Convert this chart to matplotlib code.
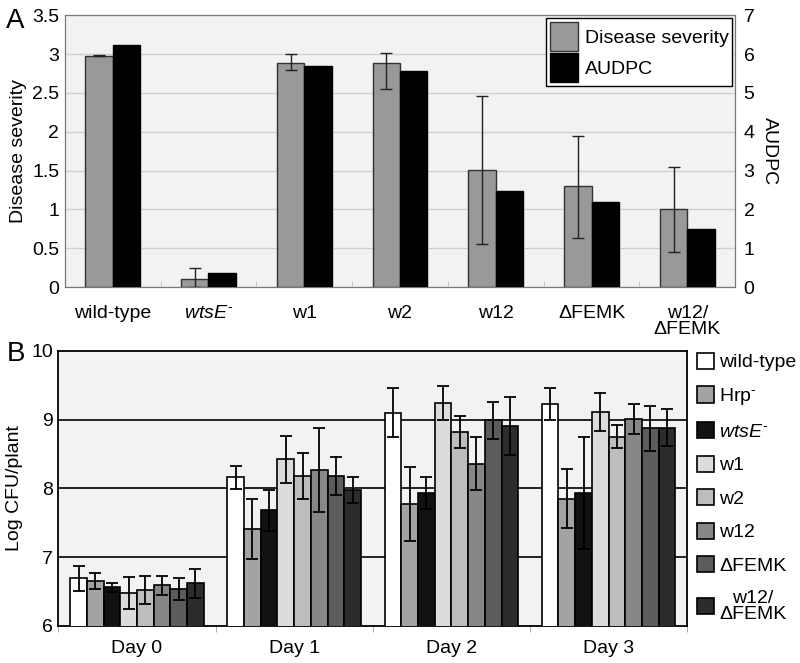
import numpy as np
import matplotlib
matplotlib.use('Agg')
import matplotlib.pyplot as plt

plt.rcParams['font.family'] = ['Liberation Sans', 'DejaVu Sans']
plt.rcParams['mathtext.fontset'] = 'custom'
plt.rcParams['mathtext.rm'] = 'Liberation Sans'
plt.rcParams['mathtext.it'] = 'Liberation Sans:italic'

# panel A data
strains_a = ['wild-type', r'$wtsE^{\text{-}}$', 'w1', 'w2', 'w12', '\u0394FEMK', 'w12/\n\u0394FEMK']
severity = [2.98, 0.10, 2.89, 2.89, 1.51, 1.30, 1.01]
sev_lo = [0.01, 0.10, 0.10, 0.34, 0.96, 0.67, 0.56]
sev_hi = [0.01, 0.15, 0.11, 0.12, 0.95, 0.65, 0.54]
audpc = [6.23, 0.37, 5.69, 5.57, 2.48, 2.18, 1.50]

# panel B data
days = ['Day 0', 'Day 1', 'Day 2', 'Day 3']
strains_b = ['wild-type', r'Hrp$^{\text{-}}$', r'$wtsE^{\text{-}}$', 'w1', 'w2', 'w12', '\u0394FEMK', 'w12/\n\u0394FEMK']
colors_b = ['#ffffff', '#a3a3a3', '#121212', '#dcdcdc', '#bdbdbd', '#878787', '#5c5c5c', '#2c2c2c']
cfu = [
    [6.69, 8.16, 9.10, 9.23],
    [6.65, 7.41, 7.77, 7.85],
    [6.56, 7.68, 7.93, 7.93],
    [6.48, 8.42, 9.24, 9.11],
    [6.52, 8.18, 8.82, 8.75],
    [6.59, 8.27, 8.36, 9.01],
    [6.54, 8.18, 8.99, 8.87],
    [6.62, 7.98, 8.91, 8.88],
]
cfu_err = [
    [0.18, 0.17, 0.36, 0.23],
    [0.12, 0.44, 0.54, 0.43],
    [0.07, 0.30, 0.23, 0.81],
    [0.23, 0.34, 0.24, 0.27],
    [0.20, 0.33, 0.23, 0.17],
    [0.14, 0.61, 0.39, 0.22],
    [0.16, 0.28, 0.27, 0.33],
    [0.21, 0.19, 0.42, 0.27],
]

FS = 14
fig = plt.figure(figsize=(8, 6.63), dpi=100)

# ---- A ----
ax = fig.add_axes([0.081, 0.567, 0.838, 0.410])
ax.set_facecolor('#f2f2f2')
x = np.arange(len(strains_a))
w = 0.285
ax.bar(x - w / 2, severity, w, color='#999999', edgecolor='#333333', linewidth=1, zorder=3,
       label='Disease severity')
ax.errorbar(x - w / 2, severity, yerr=[sev_lo, sev_hi], fmt='none', ecolor='#222222',
            elinewidth=1, capsize=4, capthick=1, zorder=4)
ax.set_ylim(0, 3.5)
ax.set_xlim(-0.5, len(strains_a) - 0.5)
ax.set_yticks(np.arange(0, 3.6, 0.5))
ax.set_yticklabels(['0', '0.5', '1', '1.5', '2', '2.5', '3', '3.5'], fontsize=FS)
ax.yaxis.grid(True, color='#d0d0d0', linewidth=1, zorder=0)
ax.set_axisbelow(True)
ax.set_xticks(x)
ax.set_xticklabels(strains_a, fontsize=FS, linespacing=0.9)
ax.set_xticks(np.arange(0.5, len(strains_a) - 0.5), minor=True)
ax.tick_params(axis='x', which='major', length=0, pad=13)
ax.tick_params(axis='x', which='minor', length=4, direction='in', color='#c0c0c0')
ax.tick_params(axis='y', length=0, pad=4)
ax.set_ylabel('Disease severity', fontsize=FS, labelpad=4)
for s in ax.spines.values():
    s.set_color('#777777')

ax2 = ax.twinx()
ax2.bar(x + w / 2, audpc, w, color='#000000', edgecolor='#000000', linewidth=1, zorder=3,
        label='AUDPC')
ax2.set_ylim(0, 7)
ax2.set_yticks(range(8))
ax2.set_yticklabels([str(i) for i in range(8)], fontsize=FS)
ax2.tick_params(axis='y', length=0, pad=6)
ax2.set_ylabel('AUDPC', fontsize=FS, rotation=270, labelpad=17)
for s in ax2.spines.values():
    s.set_color('#777777')

h1, l1 = ax.get_legend_handles_labels()
h2, l2 = ax2.get_legend_handles_labels()
leg = ax2.legend(h1 + h2, l1 + l2, loc='upper right', fontsize=FS, fancybox=False,
                 edgecolor='black', framealpha=1, handlelength=1.45, handleheight=1.9,
                 handletextpad=0.35, labelspacing=0.12, borderpad=0.2, borderaxespad=0.15)
leg.get_frame().set_linewidth(1)

fig.text(0.008, 0.958, 'A', fontsize=20)

# ---- B ----
bx = fig.add_axes([0.073, 0.056, 0.786, 0.415])
bx.set_facecolor('#f2f2f2')
gx = np.arange(len(days))
n = len(strains_b)
bw = 0.85 / n
for i in range(n):
    pos = gx - 0.425 + bw * (i + 0.5)
    bx.bar(pos, cfu[i], bw, color=colors_b[i], edgecolor='black', linewidth=1.2,
           zorder=3, label=strains_b[i])
    bx.errorbar(pos, cfu[i], yerr=cfu_err[i], fmt='none', ecolor='black', elinewidth=1.3,
                capsize=4, capthick=1.3, zorder=4)
for yv in [7, 8, 9]:
    bx.axhline(yv, color='black', linewidth=1.2, zorder=1)
bx.set_ylim(6, 10)
bx.set_xlim(-0.5, len(days) - 0.5)
bx.set_yticks([6, 7, 8, 9, 10])
bx.set_yticklabels(['6', '7', '8', '9', '10'], fontsize=FS)
bx.tick_params(axis='y', length=0, pad=4)
bx.set_xticks(gx)
bx.set_xticklabels(days, fontsize=FS)
bx.set_xticks(np.arange(-0.5, len(days)), minor=True)
bx.tick_params(axis='x', which='major', length=0, pad=10)
bx.tick_params(axis='x', which='minor', length=4, direction='out', color='#999999')
bx.set_ylabel('Log CFU/plant', fontsize=FS, labelpad=6)
for s in bx.spines.values():
    s.set_color('black')
    s.set_linewidth(1.3)

hb, lb = bx.get_legend_handles_labels()
legb = fig.legend(hb, lb, loc='upper left', bbox_to_anchor=(0.871, 0.468), fontsize=FS,
                  frameon=False, handlelength=0.9, handleheight=0.9, handletextpad=0.25,
                  labelspacing=0.76, borderpad=0.0, borderaxespad=0.0)
for t in legb.get_texts():
    t.set_multialignment('center')
    t.set_linespacing(0.9)

fig.text(0.008, 0.455, 'B', fontsize=20)

fig.savefig('out.png', dpi=100)
